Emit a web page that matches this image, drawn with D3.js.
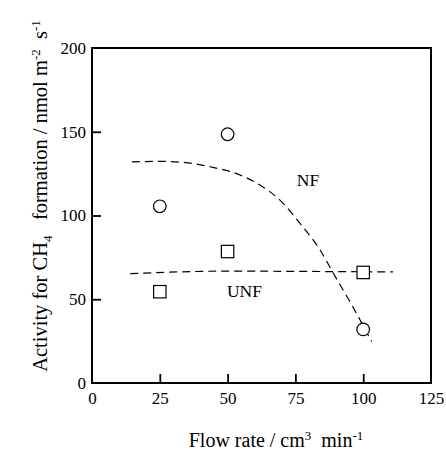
<!DOCTYPE html>
<html>
<head>
<meta charset="utf-8">
<script src="https://cdn.jsdelivr.net/npm/d3@7"></script>
<style>
	body { margin: 0; background: #fff; }
	text { font-family: "Liberation Serif", "Times New Roman", serif; fill: #000; }
</style>
</head>
<body>
<svg id="chart" width="446" height="452"></svg>
<script>
// measured points
var flowNF = [25, 50, 100];
var actNF = [105.5, 148.5, 32];
var flowUNF = [25, 50, 100];
var actUNF = [54.5, 78.5, 66];

// fitted dashed curves
var curveNFx = [14.7, 25, 33.6, 43.5, 54.6, 61.9, 69.3, 76.7, 84.1, 89, 96, 103.1];
var curveNFy = [132, 132.3, 131.7, 129.1, 124.2, 118.2, 109.2, 95.3, 79.4, 65.5, 46, 24.7];
var curveUNFx = [14.1, 50, 80, 111];
var curveUNFy = [65.3, 66.8, 66.6, 66.3];

var xTicks = [0, 25, 50, 75, 100, 125];
var yTicks = [0, 50, 100, 150, 200];

var svg = d3.select("#chart");
var plotLeft = 92, plotRight = 431, plotTop = 48, plotBottom = 383;

var x = d3.scaleLinear().domain([0, 125]).range([plotLeft, plotRight]);
var y = d3.scaleLinear().domain([0, 200]).range([plotBottom, plotTop]);

// frame
svg.append("rect")
	.attr("x", plotLeft).attr("y", plotTop)
	.attr("width", plotRight - plotLeft).attr("height", plotBottom - plotTop)
	.attr("fill", "none").attr("stroke", "#000").attr("stroke-width", 2);

// axes, ticks pointing inward
var xAxis = svg.append("g")
	.attr("transform", "translate(0," + plotBottom + ")")
	.call(d3.axisBottom(x).tickValues(xTicks).tickSize(-9).tickPadding(9));
var yAxis = svg.append("g")
	.attr("transform", "translate(" + plotLeft + ",0)")
	.call(d3.axisLeft(y).tickValues(yTicks).tickSize(-9).tickPadding(6));

[xAxis, yAxis].forEach(function(a)
{
	a.select(".domain").remove();
	a.selectAll("line").attr("stroke", "#000").attr("stroke-width", 1.8);
	a.selectAll("text").style("font-family", "Liberation Serif").style("font-size", "17px");
});
xAxis.selectAll(".tick").filter(function(d) { return d === 0 || d === 125; }).select("line").remove();
yAxis.selectAll(".tick").filter(function(d) { return d === 0 || d === 200; }).select("line").remove();

// dashed curves
var line = d3.line()
	.x(function(d) { return x(d[0]); })
	.y(function(d) { return y(d[1]); })
	.curve(d3.curveMonotoneX);

svg.append("path")
	.attr("d", line(d3.zip(curveNFx, curveNFy)))
	.attr("fill", "none").attr("stroke", "#000").attr("stroke-width", 1.2)
	.attr("stroke-dasharray", "8,5");
svg.append("path")
	.attr("d", line(d3.zip(curveUNFx, curveUNFy)))
	.attr("fill", "none").attr("stroke", "#000").attr("stroke-width", 1.2)
	.attr("stroke-dasharray", "8,5");

// markers
svg.selectAll("circle.nf").data(d3.zip(flowNF, actNF)).enter()
	.append("circle")
		.attr("cx", function(d) { return x(d[0]); })
		.attr("cy", function(d) { return y(d[1]); })
		.attr("r", 6.3)
		.attr("fill", "#fff").attr("stroke", "#000").attr("stroke-width", 1.2);
svg.selectAll("rect.unf").data(d3.zip(flowUNF, actUNF)).enter()
	.append("rect")
		.attr("x", function(d) { return x(d[0]) - 6.2; })
		.attr("y", function(d) { return y(d[1]) - 6.2; })
		.attr("width", 12.4).attr("height", 12.4)
		.attr("fill", "#fff").attr("stroke", "#000").attr("stroke-width", 1.2);

// series labels
svg.append("text").attr("x", 308).attr("y", 186).attr("text-anchor", "middle")
	.style("font-size", "17.5px").text("NF");
svg.append("text").attr("x", 244.5).attr("y", 297).attr("text-anchor", "middle")
	.style("font-size", "17.5px").text("UNF");

// axis titles
var xt = svg.append("text").attr("x", 276).attr("y", 447).attr("text-anchor", "middle")
	.style("font-size", "20px");
xt.append("tspan").text("Flow rate / cm");
xt.append("tspan").attr("dy", -7).style("font-size", "13px").text("3");
xt.append("tspan").attr("dy", 7).text("\u00a0\u00a0min");
xt.append("tspan").attr("dy", -7).style("font-size", "13px").text("-1");

var yt = svg.append("text")
	.attr("transform", "translate(47,196) rotate(-90)")
	.attr("text-anchor", "middle")
	.style("font-size", "20.5px");
yt.append("tspan").text("Activity for CH");
yt.append("tspan").attr("dy", 5).style("font-size", "13px").text("4");
yt.append("tspan").attr("dy", -5).text("\u00a0\u00a0\u00a0formation / nmol m");
yt.append("tspan").attr("dy", -7).style("font-size", "13px").text("-2");
yt.append("tspan").attr("dy", 7).text("\u00a0\u00a0s");
yt.append("tspan").attr("dy", -7).style("font-size", "13px").text("-1");
</script>
</body>
</html>
